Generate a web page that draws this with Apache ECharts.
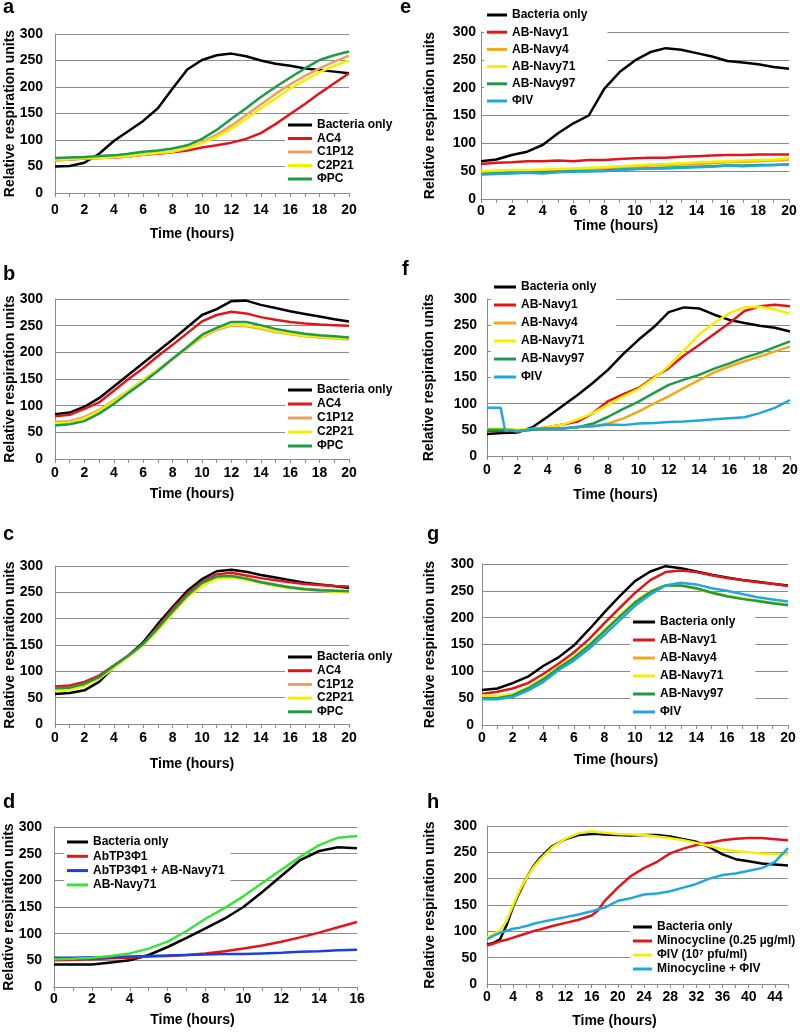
<!DOCTYPE html>
<html><head><meta charset="utf-8">
<script src="https://cdn.jsdelivr.net/npm/echarts@6/dist/echarts.min.js"></script>
<style>
html,body{margin:0;padding:0;background:#fff;}
.p{position:absolute;width:400px;}
</style></head>
<body>
<div id="pa" class="p" style="left:0;top:0;height:260px"></div>
<div id="pe" class="p" style="left:400px;top:0;height:260px"></div>
<div id="pb" class="p" style="left:0;top:260px;height:260px"></div>
<div id="pf" class="p" style="left:400px;top:260px;height:260px"></div>
<div id="pc" class="p" style="left:0;top:520px;height:260px"></div>
<div id="pg" class="p" style="left:400px;top:520px;height:260px"></div>
<div id="pd" class="p" style="left:0;top:780px;height:252px"></div>
<div id="ph" class="p" style="left:400px;top:780px;height:252px"></div>
<script>
// ---------- time axes ----------
const T20 = [0,1,2,3,4,5,6,7,8,9,10,11,12,13,14,15,16,17,18,19,20];
const T16 = [0,1,2,3,4,5,6,7,8,9,10,11,12,13,14,15,16];
const TH = [0,1,2,3,4,5,6,7,8,10,12,14,16,17,18,20,22,24,26,28,30,32,34,36,38,40,42,44,46];
const TF_IV = [0,0.9,1.2,1.5,2,3,4,5,6,7,8,9,10,11,12,13,14,15,16,17,18,19,20];

// ---------- panel a ----------
const aBact  = [50,51,57,74,98,117,136,160,197,233,251,260,263,258,250,244,240,235,232,229,226];
const aAC4   = [62,63,65,66,67,69,72,74,77,80,86,90,95,102,113,130,149,168,188,207,226];
const aC1P12 = [62,63,65,66,67,69,72,75,78,84,96,110,127,147,167,187,205,221,235,248,259];
const aC2P21 = [63,64,66,66,68,70,73,76,78,85,94,106,121,140,160,178,197,213,228,240,250];
const aPC    = [66,67,68,70,71,74,78,80,84,90,102,119,140,160,181,200,218,235,251,260,267];
// ---------- panel b ----------
const bBact  = [84,87,98,114,136,158,180,202,224,247,270,281,296,297,289,283,277,272,267,262,258];
const bAC4   = [80,83,94,106,128,150,170,193,214,236,258,270,276,273,266,261,257,254,252,251,250];
const bC1P12 = [70,71,79,92,110,128,148,168,188,208,228,242,250,249,244,238,234,230,228,226,224];
const bC2P21 = [67,68,76,90,108,127,147,167,188,209,230,244,252,251,246,240,235,231,229,227,226];
const bPC    = [63,65,71,85,103,124,144,165,188,210,233,246,257,257,251,244,239,235,232,230,228];
// ---------- panel c ----------
const cBact  = [57,59,64,80,108,130,155,190,222,253,275,290,293,289,283,278,273,268,265,262,258];
const cAC4   = [71,73,80,92,111,130,152,185,218,248,270,284,287,282,277,273,269,266,264,262,261];
const cC1P12 = [66,68,74,88,108,128,150,180,212,242,266,280,282,277,270,265,260,257,255,253,252];
const cC2P21 = [63,65,72,86,107,128,150,178,210,240,262,276,278,274,268,262,258,255,253,251,250];
const cPC    = [68,69,76,89,110,130,152,182,214,244,268,280,281,276,269,264,259,256,254,253,252];
// ---------- panel d ----------
const dBact    = [42,42,42,46,50,60,75,92,110,128,150,178,208,238,255,262,260];
const dTP3     = [50,51,52,54,55,57,58,60,63,67,72,78,85,93,102,112,122];
const dTP3N71  = [55,55,56,56,57,58,59,60,61,62,62,63,64,66,67,69,70];
const dN71     = [52,53,55,58,63,72,85,105,128,148,170,195,220,244,266,280,283];
// ---------- panel e ----------
const eBact = [68,71,79,85,97,118,136,150,198,228,249,264,271,268,262,256,248,245,242,237,234];
const eN1   = [63,65,66,68,68,69,68,70,70,72,73,74,74,76,77,78,79,79,80,80,80];
const eN4   = [48,49,50,50,51,52,53,54,55,57,58,60,61,62,63,64,66,67,68,69,70];
const eN71  = [50,51,52,52,53,54,55,56,57,59,60,62,63,64,66,67,68,69,70,71,73];
const eN97  = [45,46,47,47,48,49,50,50,51,53,54,55,56,57,58,59,60,60,61,61,62];
const eIV   = [44,45,46,47,46,48,49,50,50,52,54,55,55,56,57,58,60,59,60,61,62];
// ---------- panel f ----------
const fBact = [42,44,45,55,75,96,117,140,165,195,222,246,275,284,282,270,260,254,249,245,238];
const fN1   = [48,48,48,50,55,60,66,82,105,118,130,150,168,192,212,233,254,277,286,289,286];
const fN4   = [50,50,49,50,52,53,55,57,62,72,85,100,114,130,145,160,171,181,190,200,209];
const fN71  = [52,52,50,52,55,60,70,82,98,114,128,148,172,202,232,254,273,284,285,280,272];
const fN97  = [50,50,48,50,52,53,55,62,75,90,104,120,136,146,155,167,177,188,197,208,219];
const fIV   = [92,92,48,50,47,52,53,52,56,57,60,59,62,63,65,66,68,70,72,74,82,92,107];
// ---------- panel g ----------
const gBact = [65,68,78,90,110,126,148,178,210,240,268,286,296,292,286,280,275,270,267,263,260];
const gN1   = [58,62,68,78,95,114,135,160,190,218,246,270,285,288,285,279,274,270,266,263,259];
const gN4   = [52,52,57,69,86,107,126,149,176,203,229,249,260,260,254,246,240,235,231,227,224];
const gN71  = [55,54,58,70,87,108,127,150,177,204,230,249,261,261,255,247,241,236,232,228,225];
const gN97  = [50,50,55,68,85,106,125,148,175,202,228,248,260,260,255,247,240,235,231,227,223];
const gIV   = [48,48,52,64,80,102,120,142,168,195,222,243,260,265,262,255,250,244,238,234,230];
// ---------- panel h ----------
const hBact   = [75,78,85,112,147,175,200,222,238,262,275,283,285,285,284,283,282,283,283,280,275,270,260,246,237,233,229,227,225];
const hMino   = [73,77,81,84,88,92,96,100,103,110,116,122,130,140,158,183,205,220,232,248,257,264,268,273,276,277,277,275,273];
const hIV     = [88,95,102,120,150,178,200,220,235,260,276,286,290,288,287,285,284,283,280,277,273,268,262,256,252,250,248,247,246];
const hMinoIV = [85,92,97,101,105,107,110,114,117,122,127,132,138,142,145,158,163,170,172,176,183,190,200,207,210,215,220,232,258];

const FONT = '"Liberation Sans", Arial, sans-serif';
const C = {black:'#000000', red:'#e0161d', tan:'#e9a263', yellow:'#f3ef00', green:'#1e9a48',
           gold:'#f2a81d', sky:'#23a6da', dblue:'#1f3fd8', lgreen:'#3be23b'};

function S(name, x, y, color){ return {name, x, y, color}; }

function build(id, p){
  const chart = echarts.init(document.getElementById(id), null, {renderer:'canvas'});
  const txt = {color:'#000', fontFamily:FONT, fontWeight:'bold', fontSize:14};
  chart.setOption({
    animation:false,
    grid:{left:p.grid[0], top:p.grid[1], width:p.grid[2], height:p.grid[3],
      containLabel:false, outerBoundsMode:'none'},
    graphic:[{type:'text', left:p.letter[1], top:p.letter[2], z:10,
      style:{text:p.letter[0], font:'bold 20px '+FONT, fill:'#000'}}],
    xAxis:{type:'value', min:0, max:p.xMax, interval:p.xStep,
      name:'Time (hours)', nameLocation:'middle', nameGap:p.xNameGap, nameMoveOverlap:false,
      nameTextStyle:Object.assign({}, txt, {padding:[0, p.xNameShift*2, 0, 0]}),
      axisLine:{show:true, onZero:false, lineStyle:{color:'#8a8a8a', width:1}},
      axisTick:{show:true, length:4, lineStyle:{color:'#8a8a8a', width:1}},
      axisLabel:Object.assign({}, txt, {margin:p.xLabMargin,
        formatter:v => (Math.round(v) % p.labEvery === 0 ? String(v) : '')}),
      splitLine:{show:false}},
    yAxis:{type:'value', min:0, max:300, interval:50,
      name:'Relative respiration units', nameLocation:'middle', nameGap:p.yNameGap, nameMoveOverlap:false,
      nameTextStyle:txt,
      axisLine:{show:true, lineStyle:{color:'#8a8a8a', width:1}},
      axisTick:{show:false},
      axisLabel:Object.assign({}, txt, {margin:p.yLabMargin}),
      splitLine:{show:true, lineStyle:{color:'#8a8a8a', width:1}}},
    legend:{orient:'vertical', left:p.leg.left, top:p.leg.top, itemGap:p.leg.gap,
      itemWidth:p.leg.w, itemHeight:3, icon:'rect', padding:[3,p.leg.padR||6,3,3],
      backgroundColor:'#ffffff', z:1, selectedMode:false,
      textStyle:{color:'#000', fontFamily:FONT, fontWeight:'bold', fontSize:12, lineHeight:12},
      data:p.series.map(s => s.name)},
    series:p.series.map(s => ({
      type:'line', name:s.name, showSymbol:false, symbol:'none', z:2,
      data:s.x.map((t,i) => [t, s.y[i]]),
      lineStyle:{color:s.color, width:2.5}, itemStyle:{color:s.color}
    }))
  });
}

build('pa', {grid:[55,34,294,159], letter:['a',3,-3], xMax:20, xStep:1, labEvery:2,
  xNameGap:34, xNameShift:10, xLabMargin:10, yNameGap:38, yLabMargin:12,
  leg:{left:285, top:116, gap:1.5, w:24},
  series:[S('Bacteria only',T20,aBact,C.black), S('AC4',T20,aAC4,C.red), S('C1P12',T20,aC1P12,C.tan),
          S('C2P21',T20,aC2P21,C.yellow), S('ΦPC',T20,aPC,C.green)]});

build('pb', {grid:[55,39,294,160], letter:['b',3,4], xMax:20, xStep:1, labEvery:2,
  xNameGap:28, xNameShift:10, xLabMargin:7, yNameGap:38, yLabMargin:12,
  leg:{left:285, top:121, gap:2, w:24},
  series:[S('Bacteria only',T20,bBact,C.black), S('AC4',T20,bAC4,C.red), S('C1P12',T20,bC1P12,C.tan),
          S('C2P21',T20,bC2P21,C.yellow), S('ΦPC',T20,bPC,C.green)]});

build('pc', {grid:[55,46,294,158], letter:['c',3,4], xMax:20, xStep:1, labEvery:2,
  xNameGap:33, xNameShift:10, xLabMargin:7, yNameGap:38, yLabMargin:12,
  leg:{left:285, top:128, gap:1.7, w:24},
  series:[S('Bacteria only',T20,cBact,C.black), S('AC4',T20,cAC4,C.red), S('C1P12',T20,cC1P12,C.tan),
          S('C2P21',T20,cC2P21,C.yellow), S('ΦPC',T20,cPC,C.green)]});

build('pd', {grid:[54,47,303,160], letter:['d',3,12], xMax:16, xStep:1, labEvery:2,
  xNameGap:26, xNameShift:13, xLabMargin:5, yNameGap:38, yLabMargin:12,
  leg:{left:64, top:53, gap:2.3, w:21},
  series:[S('Bacteria only',T16,dBact,C.black), S('AbTP3Φ1',T16,dTP3,C.red),
          S('AbTP3Φ1 + AB-Navy71',T16,dTP3N71,C.dblue), S('AB-Navy71',T16,dN71,C.lgreen)]});

build('pe', {grid:[81,32,308,167], letter:['e',0,-3], xMax:20, xStep:1, labEvery:2,
  xNameGap:20, xNameShift:19, xLabMargin:5, yNameGap:44, yLabMargin:5,
  leg:{left:84, top:6, gap:5.2, w:20, padR:20},
  series:[S('Bacteria only',T20,eBact,C.black), S('AB-Navy1',T20,eN1,C.red), S('AB-Navy4',T20,eN4,C.gold),
          S('AB-Navy71',T20,eN71,C.yellow), S('AB-Navy97',T20,eN97,C.green), S('ΦIV',T20,eIV,C.sky)]});

build('pf', {grid:[87,39,303,157], letter:['f',2,-1], xMax:20, xStep:1, labEvery:2,
  xNameGap:32, xNameShift:23, xLabMargin:7, yNameGap:51, yLabMargin:10,
  leg:{left:91, top:18, gap:6, w:22, padR:20},
  series:[S('Bacteria only',T20,fBact,C.black), S('AB-Navy1',T20,fN1,C.red), S('AB-Navy4',T20,fN4,C.gold),
          S('AB-Navy71',T20,fN71,C.yellow), S('AB-Navy97',T20,fN97,C.green), S('ΦIV',TF_IV,fIV,C.sky)]});

build('pg', {grid:[82,44,306,161], letter:['g',27,4], xMax:20, xStep:1, labEvery:2,
  xNameGap:28, xNameShift:19, xLabMargin:6, yNameGap:45, yLabMargin:8,
  leg:{left:230, top:93, gap:6, w:22, padR:20},
  series:[S('Bacteria only',T20,gBact,C.black), S('AB-Navy1',T20,gN1,C.red), S('AB-Navy4',T20,gN4,C.gold),
          S('AB-Navy71',T20,gN71,C.yellow), S('AB-Navy97',T20,gN97,C.green), S('ΦIV',T20,gIV,C.sky)]});

build('ph', {grid:[87,46,301,158], letter:['h',27,12], xMax:46, xStep:2, labEvery:4,
  xNameGap:30, xNameShift:23, xLabMargin:6, yNameGap:50, yLabMargin:10,
  leg:{left:230, top:138, gap:2, w:19},
  series:[S('Bacteria only',TH,hBact,C.black), S('Minocycline (0.25 µg/ml)',TH,hMino,C.red),
          S('ΦIV (10⁷ pfu/ml)',TH,hIV,C.yellow), S('Minocycline + ΦIV',TH,hMinoIV,C.sky)]});
</script>
</body></html>
